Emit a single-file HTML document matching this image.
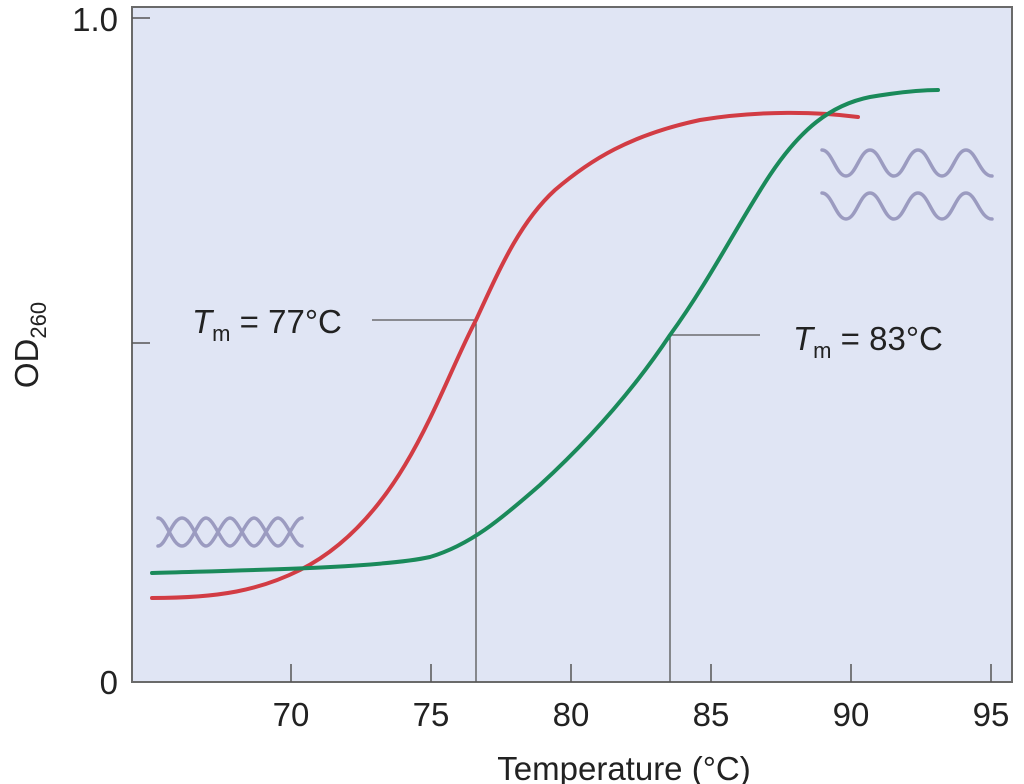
<!DOCTYPE html>
<html><head><style>body{margin:0;background:#fff}svg{display:block}text{font-family:"Liberation Sans",sans-serif;fill:#222}</style></head>
<body>
<svg width="1024" height="784" viewBox="0 0 1024 784">
<rect x="132" y="7" width="880" height="675" fill="#e0e5f4" stroke="#6a6a6a" stroke-width="2"/>
<g stroke="#555" stroke-width="1.5">
<line x1="132" y1="18" x2="150" y2="18"/><line x1="132" y1="343" x2="150" y2="343"/>
<line x1="291" y1="682" x2="291" y2="664"/><line x1="431" y1="682" x2="431" y2="664"/>
<line x1="571" y1="682" x2="571" y2="664"/><line x1="711" y1="682" x2="711" y2="664"/>
<line x1="851" y1="682" x2="851" y2="664"/><line x1="991" y1="682" x2="991" y2="664"/>
</g>
<g font-size="33">
<text x="118" y="31" text-anchor="end">1.0</text>
<text x="118" y="694" text-anchor="end">0</text>
<text x="291" y="726" text-anchor="middle">70</text>
<text x="431" y="726" text-anchor="middle">75</text>
<text x="571" y="726" text-anchor="middle">80</text>
<text x="711" y="726" text-anchor="middle">85</text>
<text x="851" y="726" text-anchor="middle">90</text>
<text x="991" y="726" text-anchor="middle">95</text>
<text x="624" y="780" text-anchor="middle">Temperature (°C)</text>
<text transform="translate(38,345) rotate(-90)" text-anchor="middle">OD<tspan font-size="22" dy="8">260</tspan></text>
<text x="192" y="333"><tspan font-style="italic">T</tspan><tspan font-size="22" dy="8">m</tspan><tspan dy="-8"> = 77°C</tspan></text>
<text x="793" y="350"><tspan font-style="italic">T</tspan><tspan font-size="22" dy="8">m</tspan><tspan dy="-8"> = 83°C</tspan></text>
</g>
<g stroke="#555" stroke-width="1.3" fill="none">
<polyline points="372,320 476,320 476,682"/>
<polyline points="760,335 670,335 670,682"/>
</g>
<g fill="none" stroke="#9b9bc0" stroke-width="3.5" stroke-linecap="round">
<path d="M158,546 C166,546 172,518 182,518 S198,546 206,546 S222,518 230,518 S246,546 254,546 S270,518 278,518 S294,546 302,546"/>
<path d="M158,518 C166,518 172,546 182,546 S198,518 206,518 S222,546 230,546 S246,518 254,518 S270,546 278,546 S294,518 302,518"/>
<path d="M822,150 C832,150 836,176 846,176 S860,150 870,150 S884,176 894,176 S908,150 918,150 S932,176 942,176 S956,150 966,150 S980,176 992,176"/>
<path d="M822,193 C832,193 836,219 846,219 S860,193 870,193 S884,219 894,219 S908,193 918,193 S932,219 942,219 S956,193 966,193 S980,219 992,219"/>
</g>
<path fill="none" stroke="#d23c44" stroke-width="4" stroke-linecap="round" d="M152,598 C220,598 260,590 300,570 C340,550 375,515 405,465 C435,415 455,360 476,320 C500,268 520,222 555,190 C590,160 630,135 700,120 C760,110 820,112 858,117"/>
<path fill="none" stroke="#1a8a5a" stroke-width="4" stroke-linecap="round" d="M152,573 C250,570 380,568 430,557 C470,545 500,520 540,485 C600,430 640,380 670,335 C710,280 740,220 770,175 C800,130 830,105 870,97 C900,92 920,90 938,90"/>
</svg>
</body></html>
